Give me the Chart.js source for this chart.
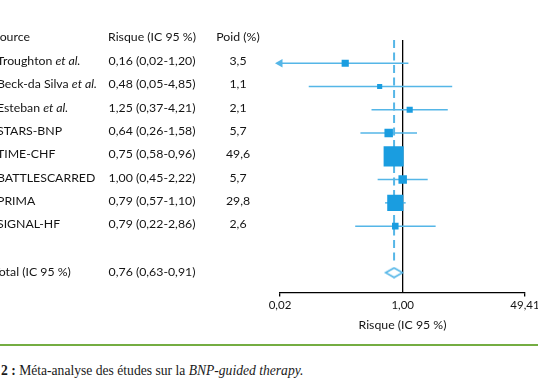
<!DOCTYPE html>
<html>
<head>
<meta charset="utf-8">
<script src="https://cdn.jsdelivr.net/npm/chart.js@4.4.0/dist/chart.umd.min.js"></script>
<style>
  html, body { margin: 0; padding: 0; background: #fff; overflow: hidden; width: 538px; height: 384px; }
  #wrap { position: absolute; left: 0; top: 0; width: 560px; height: 340px; }
  #rule { position: absolute; left: 0; top: 344px; width: 538px; height: 2px; background: #74ad42; }
  #caption { position: absolute; left: 1px; top: 363px; font-family: "Liberation Serif", serif; font-size: 13.6px; color: #1a1a1a; white-space: nowrap; }
</style>
</head>
<body>
<div id="wrap"><canvas id="chart" width="560" height="340"></canvas></div>
<div id="rule"></div>
<div id="caption"><b>2 :</b> Méta-analyse des études sur la <i>BNP-guided therapy.</i></div>
<script>
const studies = ['Troughton et al.', 'Beck-da Silva et al.', 'Esteban et al.', 'STARS-BNP', 'TIME-CHF', 'BATTLESCARRED', 'PRIMA', 'SIGNAL-HF'];
const risk = [0.16, 0.48, 1.25, 0.64, 0.75, 1.00, 0.79, 0.79];
const ciLow = [0.02, 0.05, 0.37, 0.26, 0.58, 0.45, 0.57, 0.22];
const ciHigh = [1.20, 4.85, 4.21, 1.58, 0.96, 2.22, 1.10, 2.86];
const weights = [3.5, 1.1, 2.1, 5.7, 49.6, 5.7, 29.8, 2.6];

const totalLabel = 'Total (IC 95 %)';
const totalRisk = 0.76;
const totalLow = 0.63;
const totalHigh = 0.91;

const headers = ['Source', 'Risque (IC 95 %)', 'Poid (%)'];
const xTicks = [0.02, 1.00, 49.41];
const axisTitle = 'Risque (IC 95 %)';

const TOTAL_ROW = 9;
const SQUARE = '#1a9de0';
const LINE = '#55b6e7';
const TEXT = '#141414';
const FONT = 'Lato, "Open Sans", sans-serif';

const fr = (v, d) => v.toFixed(d).replace('.', ',');

// hollow diamond used as point style for the pooled estimate
const diamond = document.createElement('canvas');
diamond.width = 20; diamond.height = 12;
(function () {
  const d = diamond.getContext('2d');
  d.strokeStyle = LINE; d.lineWidth = 1.6;
  d.beginPath();
  d.moveTo(1.5, 6); d.lineTo(10, 1.2); d.lineTo(18.5, 6); d.lineTo(10, 10.8);
  d.closePath(); d.stroke();
})();

const ciSets = studies.map((s, i) => ({
  type: 'line',
  data: [{ x: ciLow[i], y: i }, { x: ciHigh[i], y: i }],
  borderColor: LINE,
  borderWidth: 1.5,
  pointStyle: 'triangle',
  pointRotation: -90,
  pointBackgroundColor: LINE,
  pointBorderWidth: 0,
  pointRadius: ctx => (ctx.dataIndex === 0 && ciLow[i] <= xTicks[0]) ? 5 : 0,
  clip: false,
  order: 2
}));

const table = {
  id: 'table',
  afterDraw(chart) {
    const ctx = chart.ctx;
    const y = chart.scales.y;
    ctx.save();
    ctx.fillStyle = TEXT;
    ctx.textBaseline = 'middle';
    const normal = '12.3px ' + FONT;
    const italic = 'italic 12.3px ' + FONT;
    const colRisk = 152, colWeight = 238;

    const hy = y.getPixelForValue(-1.13);
    ctx.font = normal;
    ctx.textAlign = 'left';
    ctx.fillText(headers[0], -7, hy);
    ctx.textAlign = 'center';
    ctx.fillText(headers[1], colRisk, hy);
    ctx.fillText(headers[2], colWeight, hy);

    studies.forEach((name, i) => {
      const py = y.getPixelForValue(i) - 2;
      ctx.textAlign = 'left';
      const k = name.indexOf(' et al.');
      if (k > 0) {
        const base = name.slice(0, k + 1);
        ctx.font = normal;
        ctx.fillText(base, -3, py);
        const w = ctx.measureText(base).width;
        ctx.font = italic;
        ctx.fillText(name.slice(k + 1), -3 + w, py);
      } else {
        ctx.font = normal;
        ctx.fillText(name, -3, py);
      }
      ctx.font = normal;
      ctx.textAlign = 'center';
      ctx.fillText(fr(risk[i], 2) + ' (' + fr(ciLow[i], 2) + '-' + fr(ciHigh[i], 2) + ')', colRisk, py);
      ctx.fillText(fr(weights[i], 1), colWeight, py);
    });

    const ty = y.getPixelForValue(TOTAL_ROW) - 1;
    ctx.textAlign = 'left';
    ctx.fillText(totalLabel, -7, ty);
    ctx.textAlign = 'center';
    ctx.fillText(fr(totalRisk, 2) + ' (' + fr(totalLow, 2) + '-' + fr(totalHigh, 2) + ')', colRisk, ty);
    ctx.restore();
  }
};

new Chart(document.getElementById('chart'), {
  type: 'scatter',
  data: {
    datasets: [
      {
        data: studies.map((s, i) => ({ x: risk[i], y: i })),
        pointStyle: 'rect',
        backgroundColor: SQUARE,
        borderWidth: 0,
        pointRadius: ctx => (2.5 + 2.5 * Math.sqrt(weights[ctx.dataIndex])) / Math.SQRT2,
        order: 0
      },
      {
        data: [{ x: totalRisk, y: TOTAL_ROW }],
        pointStyle: diamond,
        order: 0
      },
      {
        type: 'line',
        data: [{ x: totalRisk, y: -1 }, { x: totalRisk, y: 8.57 }],
        borderColor: LINE,
        borderWidth: 2,
        borderDash: [8, 4.5],
        pointRadius: 0,
        order: 3
      },
      ...ciSets
    ]
  },
  options: {
    responsive: false,
    animation: false,
    events: [],
    layout: { padding: { left: 280, right: 35, top: 40, bottom: 8 } },
    plugins: { legend: { display: false }, tooltip: { enabled: false } },
    scales: {
      x: {
        type: 'logarithmic',
        min: xTicks[0],
        max: xTicks[xTicks.length - 1],
        afterBuildTicks: scale => { scale.ticks = xTicks.map(v => ({ value: v })); },
        ticks: {
          autoSkip: false,
          maxRotation: 0,
          padding: 2,
          color: TEXT,
          font: { family: FONT, size: 11.5 },
          callback: (v, i) => fr(xTicks[i], 2)
        },
        grid: {
          color: ctx => (ctx.tick && ctx.tick.value === 1) ? '#000' : 'rgba(0,0,0,0)',
          lineWidth: 1.3,
          tickLength: 4,
          tickColor: ctx => (ctx.tick && ctx.tick.value === 1) ? 'rgba(0,0,0,0)' : '#000',
          tickWidth: 1.3
        },
        border: { display: true, color: '#000', width: 1.3 },
        title: {
          display: true,
          text: axisTitle,
          color: TEXT,
          font: { family: FONT, size: 12.3 },
          padding: { top: 3, bottom: 0 }
        }
      },
      y: {
        type: 'linear',
        reverse: true,
        min: -1,
        max: 9.85,
        display: false
      }
    }
  },
  plugins: [table]
});
</script>
</body>
</html>
